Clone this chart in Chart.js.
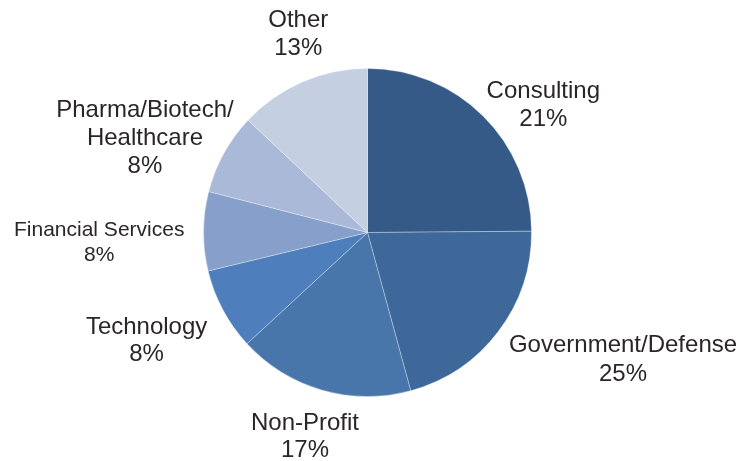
<html>
  <head>
    <meta charset="utf-8" />
    <title>Sector Pie</title>
    <style>
      body {
        margin: 0;
        padding: 0;
        background-color: #ffffff;
      }
      #wrap {
        width: 754px;
        height: 461px;
      }
    </style>
    <script src="https://cdn.jsdelivr.net/npm/chart.js"></script>
  </head>
  <body>
    <div id="wrap"><canvas id="pieChart" width="754" height="461"></canvas></div>
    <script>
      // slice data, clockwise from 12 o'clock
      const sectors = ["Consulting", "Government/Defense", "Non-Profit", "Technology", "Financial Services", "Pharma/Biotech/\nHealthcare", "Other"];
      const shares = [24.9, 20.9, 17.4, 8.1, 7.8, 8.0, 13.0];
      const shareLabels = ["21%", "25%", "17%", "8%", "8%", "8%", "13%"];

      const sliceColors = ["#355a87", "#3e6899", "#4876ab", "#4e7fbc", "#87a0cb", "#abb9d8", "#c5cfe2"];

      // label anchor (first baseline, centred) relative to pie centre, in radius units
      const labelOffsets = [
        [1.072, -0.823],
        [1.558, 0.729],
        [-0.381, 1.204],
        [-1.347, 0.617],
        [-1.636, 0.021],
        [-1.357, -0.706],
        [-0.422, -1.251]
      ];
      const labelSizes = [24, 24, 24, 24, 21, 24, 24];
      const lineGaps = [28.5, 28.5, 27.5, 27, 25, 28, 28];

      const sliceLabels = {
        id: "sliceLabels",
        afterDatasetsDraw(chart) {
          const ctx = chart.ctx;
          const arcs = chart.getDatasetMeta(0).data;
          ctx.save();
          ctx.fillStyle = "#2a2627";
          ctx.textAlign = "center";
          ctx.textBaseline = "alphabetic";
          arcs.forEach((arc, i) => {
            const r = arc.outerRadius;
            const x = arc.x + labelOffsets[i][0] * r;
            let y = arc.y + labelOffsets[i][1] * r;
            ctx.font = labelSizes[i] + "px 'Liberation Sans', Arial, sans-serif";
            const lines = sectors[i].split("\n").concat([shareLabels[i]]);
            lines.forEach((line) => {
              ctx.fillText(line, x, y);
              y += lineGaps[i];
            });
          });
          ctx.restore();
        }
      };

      const ctx = document.getElementById("pieChart").getContext("2d");
      const pieChart = new Chart(ctx, {
        type: "pie",
        data: {
          labels: sectors,
          datasets: [
            {
              data: shares,
              backgroundColor: sliceColors,
              borderColor: "rgba(255, 255, 255, 0.3)",
              borderWidth: 1
            }
          ]
        },
        options: {
          responsive: false,
          animation: false,
          layout: {
            padding: { left: 203, right: 222, top: 68, bottom: 64 }
          },
          plugins: {
            legend: { display: false },
            tooltip: { enabled: false }
          }
        },
        plugins: [sliceLabels]
      });
    </script>
  </body>
</html>
